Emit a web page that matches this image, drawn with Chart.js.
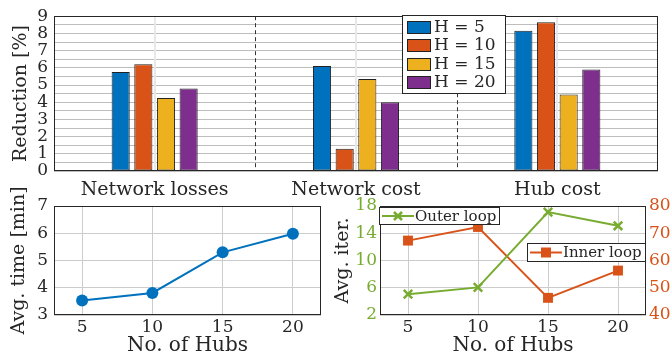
<!DOCTYPE html>
<html>
<head>
<meta charset="utf-8">
<script src="https://cdn.jsdelivr.net/npm/chart.js@4/dist/chart.umd.min.js"></script>
<style>
  body { margin: 0; width: 670px; height: 356px; background: #fff; position: relative; overflow: hidden; }
  canvas { position: absolute; }
  #grafico1 { left: 0; top: 0; }
  #grafico2 { left: 0; top: 172px; }
  #grafico3 { left: 330px; top: 172px; }
</style>
</head>
<body>
<canvas id="grafico1" width="670" height="200"></canvas>
<canvas id="grafico2" width="335" height="184"></canvas>
<canvas id="grafico3" width="340" height="184"></canvas>
<script>
// Datos
var categorias = ['Network losses', 'Network cost', 'Hub cost'];
var etiquetasH = ['H = 5', 'H = 10', 'H = 15', 'H = 20'];
var reduccionH5 = [5.75, 6.1, 8.15];
var reduccionH10 = [6.2, 1.3, 8.65];
var reduccionH15 = [4.25, 5.35, 4.45];
var reduccionH20 = [4.8, 4.0, 5.9];
var hubs = [5, 10, 15, 20];
var tiempoMedio = [3.53, 3.81, 5.3, 5.98];
var iterExterno = [5.05, 6.05, 17.1, 15.1];
var iterInterno = [67.3, 72.3, 46.3, 56.3];

var colores = ['#0072BD', '#D95319', '#EDB120', '#7E2F8E'];
var verde = '#77AC30';
var naranja = '#D95319';
var texto = '#262626';

Chart.defaults.font.family = '"DejaVu Serif", serif';
Chart.defaults.color = texto;
Chart.defaults.animation = false;

// Marco negro alrededor del área del gráfico
var marco = {
    id: 'marco',
    afterDatasetsDraw: function (chart) {
        var a = chart.chartArea, ctx = chart.ctx;
        ctx.save();
        ctx.strokeStyle = texto;
        ctx.lineWidth = 1;
        ctx.strokeRect(Math.round(a.left) + 0.5, Math.round(a.top) + 0.5,
            Math.round(a.right - a.left) - 1, Math.round(a.bottom - a.top) - 1);
        ctx.restore();
    }
};

// Líneas verticales: centro de cada categoría (claras) y separadores (discontinuos)
var separadores = {
    id: 'separadores',
    beforeDatasetsDraw: function (chart) {
        var x = chart.scales.x, a = chart.chartArea, ctx = chart.ctx;
        ctx.save();
        ctx.strokeStyle = '#e8e8e8';
        ctx.lineWidth = 2;
        categorias.forEach(function (c, i) {
            var px = Math.round(x.getPixelForValue(i));
            ctx.beginPath(); ctx.moveTo(px, a.top); ctx.lineTo(px, a.bottom); ctx.stroke();
        });
        ctx.strokeStyle = '#333';
        ctx.lineWidth = 1;
        ctx.setLineDash([4, 3]);
        for (var i = 0; i < categorias.length - 1; i++) {
            var px = Math.round((x.getPixelForValue(i) + x.getPixelForValue(i + 1)) / 2) + 0.5;
            ctx.beginPath(); ctx.moveTo(px, a.top); ctx.lineTo(px, a.bottom); ctx.stroke();
        }
        ctx.restore();
    }
};

// Leyenda dentro del área del gráfico de barras
var leyendaBarras = {
    id: 'leyendaBarras',
    afterDraw: function (chart) {
        var a = chart.chartArea, ctx = chart.ctx;
        var x0 = Math.round(a.left) + 348, y0 = Math.round(a.top) - 1, w = 103, h = 78;
        ctx.save();
        ctx.fillStyle = '#fff';
        ctx.fillRect(x0, y0, w, h);
        ctx.strokeStyle = texto;
        ctx.lineWidth = 1;
        ctx.strokeRect(x0 + 0.5, y0 + 0.5, w, h);
        ctx.font = '17px "DejaVu Serif"';
        ctx.textBaseline = 'middle';
        chart.data.datasets.forEach(function (ds, i) {
            var cy = Math.round(y0 + 12 + i * 18.3);
            ctx.fillStyle = ds.backgroundColor;
            ctx.fillRect(x0 + 5, cy - 6, 23, 12);
            ctx.strokeStyle = '#222';
            ctx.strokeRect(x0 + 5.5, cy - 5.5, 23, 12);
            ctx.fillStyle = texto;
            ctx.fillText(ds.label, x0 + 32, cy + 1);
        });
        ctx.restore();
    }
};

// Gráfico de barras
var grafico1 = new Chart(document.getElementById('grafico1').getContext('2d'), {
    type: 'bar',
    data: {
        labels: categorias,
        datasets: [reduccionH5, reduccionH10, reduccionH15, reduccionH20].map(function (d, i) {
            return {
                label: etiquetasH[i],
                data: d,
                backgroundColor: colores[i],
                borderColor: '#222',
                borderWidth: 1,
                borderSkipped: false,
                categoryPercentage: 0.45,
                barPercentage: 0.8
            };
        })
    },
    options: {
        responsive: false,
        layout: { padding: { top: 15, right: 12, left: 0, bottom: 0 } },
        plugins: { legend: { display: false }, tooltip: { enabled: false } },
        scales: {
            x: {
                grid: { display: false },
                border: { display: false },
                ticks: { font: { size: 19 }, padding: 0, color: texto },
                afterFit: function (s) { s.height = 29; }
            },
            y: {
                min: 0, max: 9,
                grid: { color: '#bdbdbd', lineWidth: 1, drawTicks: false },
                border: { display: false },
                ticks: {
                    stepSize: 0.5, autoSkip: false, padding: 6, font: { size: 17 }, color: texto,
                    callback: function (v) { return v % 1 === 0 ? v : ''; }
                },
                title: { display: true, text: 'Reduction [%]', font: { size: 19, lineHeight: 1 }, padding: { top: 12, bottom: 0 }, color: texto },
                afterFit: function (s) { s.width = 54; }
            }
        }
    },
    plugins: [separadores, marco, leyendaBarras]
});

// Ejes x comunes para los dos gráficos inferiores
function ejeHubs() {
    return {
        type: 'linear', min: 3, max: 22,
        grid: { color: '#cccccc', drawTicks: false },
        border: { display: false },
        ticks: { padding: 2, font: { size: 17 }, color: texto },
        afterBuildTicks: function (s) { s.ticks = hubs.map(function (v) { return { value: v }; }); },
        title: { display: true, text: 'No. of Hubs', font: { size: 20, lineHeight: 1 }, padding: { top: 0, bottom: 0 }, color: texto },
        afterFit: function (s) { s.height = 41; }
    };
}

// Tiempo medio
var grafico2 = new Chart(document.getElementById('grafico2').getContext('2d'), {
    type: 'line',
    data: {
        datasets: [{
            data: hubs.map(function (h, i) { return { x: h, y: tiempoMedio[i] }; }),
            borderColor: '#0072BD',
            backgroundColor: '#0072BD',
            borderWidth: 2,
            pointRadius: 6,
            pointBorderWidth: 0
        }]
    },
    options: {
        responsive: false,
        layout: { padding: { top: 34, right: 14, left: 0, bottom: 0 } },
        plugins: { legend: { display: false }, tooltip: { enabled: false } },
        scales: {
            x: ejeHubs(),
            y: {
                min: 3, max: 7,
                grid: { color: '#cccccc', drawTicks: false },
                border: { display: false },
                ticks: { stepSize: 1, padding: 6, font: { size: 17 }, color: texto },
                title: { display: true, text: 'Avg. time [min]', font: { size: 19, lineHeight: 1 }, padding: { top: 10, bottom: 0 }, color: texto },
                afterFit: function (s) { s.width = 54; }
            }
        }
    },
    plugins: [marco]
});

// Leyendas de las dos series de iteraciones
var leyendaIter = {
    id: 'leyendaIter',
    afterDraw: function (chart) {
        var a = chart.chartArea, ctx = chart.ctx;
        var cajas = [
            { x0: Math.round(a.left) - 1, y0: Math.round(a.top) + 1, w: 120, h: 17, color: verde, texto: 'Outer loop', marca: 'x' },
            { x0: Math.round(a.right) - 119, y0: Math.round(a.top) + 37, w: 118, h: 18, color: naranja, texto: 'Inner loop', marca: 'cuadro' }
        ];
        ctx.save();
        ctx.font = '15px "DejaVu Serif"';
        ctx.textBaseline = 'middle';
        cajas.forEach(function (c) {
            ctx.fillStyle = '#fff';
            ctx.fillRect(c.x0, c.y0, c.w, c.h);
            ctx.strokeStyle = texto;
            ctx.lineWidth = 1;
            ctx.strokeRect(c.x0 + 0.5, c.y0 + 0.5, c.w, c.h);
            var cy = c.y0 + c.h / 2 + 0.5;
            ctx.strokeStyle = c.color;
            ctx.lineWidth = 2;
            ctx.beginPath(); ctx.moveTo(c.x0 + 3, cy); ctx.lineTo(c.x0 + 35, cy); ctx.stroke();
            var mx = c.x0 + 19;
            if (c.marca === 'x') {
                ctx.lineWidth = 2.5;
                ctx.beginPath();
                ctx.moveTo(mx - 4, cy - 4); ctx.lineTo(mx + 4, cy + 4);
                ctx.moveTo(mx - 4, cy + 4); ctx.lineTo(mx + 4, cy - 4);
                ctx.stroke();
            } else {
                ctx.fillStyle = c.color;
                ctx.fillRect(mx - 5, cy - 5, 10, 10);
            }
            ctx.fillStyle = texto;
            ctx.fillText(c.texto, c.x0 + 36, cy + 1);
        });
        ctx.restore();
    }
};

// Iteraciones (eje doble)
var grafico3 = new Chart(document.getElementById('grafico3').getContext('2d'), {
    type: 'line',
    data: {
        datasets: [{
            label: 'Outer loop',
            data: hubs.map(function (h, i) { return { x: h, y: iterExterno[i] }; }),
            yAxisID: 'y',
            borderColor: verde,
            backgroundColor: verde,
            borderWidth: 2,
            pointStyle: 'crossRot',
            pointRadius: 6,
            pointBorderWidth: 2.5
        }, {
            label: 'Inner loop',
            data: hubs.map(function (h, i) { return { x: h, y: iterInterno[i] }; }),
            yAxisID: 'y1',
            borderColor: naranja,
            backgroundColor: naranja,
            borderWidth: 2,
            pointStyle: 'rect',
            pointRadius: 7,
            pointBorderWidth: 0
        }]
    },
    options: {
        responsive: false,
        layout: { padding: { top: 34, right: 0, left: 0, bottom: 0 } },
        plugins: { legend: { display: false }, tooltip: { enabled: false } },
        scales: {
            x: ejeHubs(),
            y: {
                position: 'left',
                min: 2, max: 18,
                grid: { color: '#cccccc', drawTicks: false },
                border: { display: false },
                ticks: { stepSize: 4, padding: 3, font: { size: 17 }, color: verde },
                title: { display: true, text: 'Avg. iter.', font: { size: 19, lineHeight: 1 }, padding: { top: 3.5, bottom: 0 }, color: texto },
                afterFit: function (s) { s.width = 50; }
            },
            y1: {
                position: 'right',
                min: 40, max: 80,
                grid: { display: false, drawTicks: false },
                border: { display: false },
                ticks: { stepSize: 10, padding: 3, font: { size: 17 }, color: naranja },
                afterFit: function (s) { s.width = 24; }
            }
        }
    },
    plugins: [marco, leyendaIter]
});
</script>
</body>
</html>
